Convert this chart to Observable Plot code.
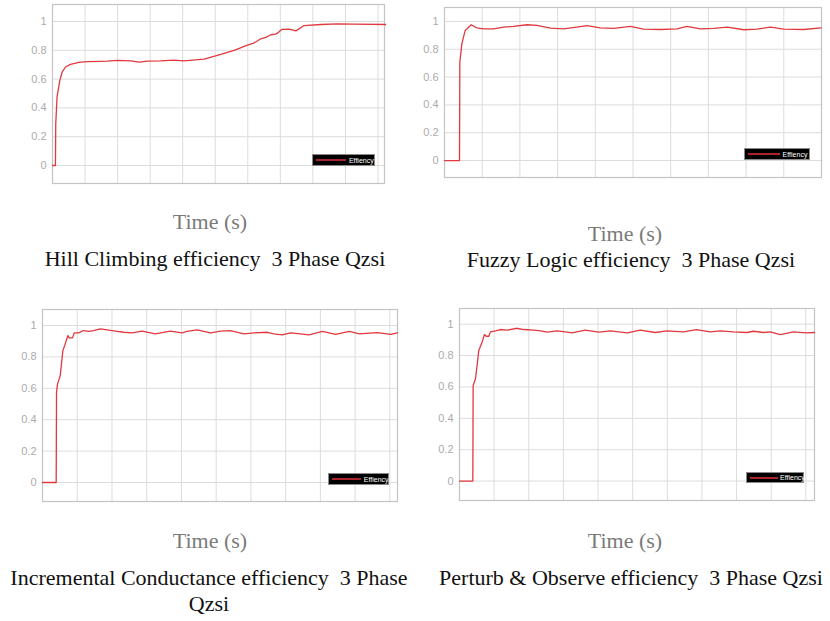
<!DOCTYPE html>
<html>
<head>
<meta charset="utf-8">
<script src="https://cdn.jsdelivr.net/npm/d3@7"></script>
<script src="https://cdn.jsdelivr.net/npm/@observablehq/plot@0.6"></script>
<style>
  html, body { margin: 0; padding: 0; background: #fff; }
  #root { position: relative; width: 830px; height: 621px; overflow: hidden; background: #fff; }
  .panel { position: absolute; }
  .cap { position: absolute; width: 500px; text-align: center; font-family: "Liberation Serif", serif; white-space: pre; line-height: 1; }
  .time { color: #7a7a7a; font-size: 22px; }
  .title { color: #111; font-size: 22px; }
  .legend { position: absolute; background: #000; border: 1px solid #8a8a8a; box-sizing: border-box; overflow: visible; }
  .legend .ln { position: absolute; height: 2px; background: #a8242a; }
  .legend .tx { position: absolute; top: 0; bottom: 0; display: flex; align-items: center; color: #fff; font-family: "Liberation Sans", sans-serif; font-size: 7px; white-space: nowrap; }
</style>
</head>
<body>
<div id="root"></div>
<script>
// ---------- data ----------
const yTicks = [0, 0.2, 0.4, 0.6, 0.8, 1];
const legendLabel = "Effiency";
const timeLabel = "Time (s)";
const titles = [
  "Hill Climbing efficiency  3 Phase Qzsi",
  "Fuzzy Logic efficiency  3 Phase Qzsi",
  "Incremental Conductance efficiency  3 Phase\nQzsi",
  "Perturb & Observe efficiency  3 Phase Qzsi"
];

const hcTime = [0, 0.09, 0.10, 0.14, 0.226, 0.297, 0.40, 0.554, 0.81, 1.067, 1.477, 1.68, 1.99, 2.40, 2.66, 2.91, 3.32, 3.73, 4.04, 4.66, 5.17, 5.58, 5.99, 6.20, 6.40, 6.55, 6.71, 6.85, 6.91, 7.04, 7.27, 7.48, 7.73, 8.25, 8.76, 9.27, 10.23];
const hcEff  = [0, 0, 0.29, 0.476, 0.591, 0.649, 0.684, 0.702, 0.716, 0.721, 0.723, 0.725, 0.730, 0.727, 0.718, 0.725, 0.727, 0.732, 0.727, 0.739, 0.771, 0.799, 0.836, 0.852, 0.880, 0.890, 0.908, 0.912, 0.919, 0.945, 0.947, 0.935, 0.972, 0.979, 0.984, 0.982, 0.979];

const flTime = [0, 0.398, 0.407, 0.46, 0.549, 0.708, 0.858, 1.035, 1.30, 1.566, 1.83, 2.19, 2.45, 2.81, 3.16, 3.51, 3.78, 4.13, 4.49, 4.93, 5.28, 5.73, 6.17, 6.43, 6.79, 7.14, 7.50, 7.94, 8.29, 8.65, 9.00, 9.53, 9.99];
const flEff  = [0, 0, 0.707, 0.839, 0.935, 0.976, 0.954, 0.947, 0.947, 0.959, 0.964, 0.976, 0.971, 0.952, 0.947, 0.959, 0.969, 0.954, 0.950, 0.964, 0.945, 0.942, 0.947, 0.964, 0.947, 0.950, 0.959, 0.940, 0.945, 0.959, 0.945, 0.942, 0.954];

const icTime = [0, 0.394, 0.404, 0.433, 0.51, 0.587, 0.654, 0.731, 0.769, 0.865, 0.913, 1.04, 1.18, 1.33, 1.47, 1.66, 1.86, 2.10, 2.34, 2.58, 2.87, 3.25, 3.68, 4.02, 4.16, 4.45, 4.84, 5.13, 5.41, 5.80, 6.09, 6.47, 6.66, 6.90, 7.14, 7.43, 7.67, 8.06, 8.44, 8.83, 9.12, 9.64, 10.03, 10.22];
const icEff  = [0, 0, 0.574, 0.628, 0.681, 0.840, 0.883, 0.936, 0.921, 0.921, 0.953, 0.953, 0.968, 0.962, 0.968, 0.979, 0.972, 0.964, 0.957, 0.953, 0.964, 0.947, 0.964, 0.953, 0.962, 0.972, 0.953, 0.964, 0.968, 0.947, 0.953, 0.957, 0.947, 0.940, 0.953, 0.947, 0.940, 0.962, 0.943, 0.962, 0.947, 0.955, 0.943, 0.953];

const poTime = [0, 0.385, 0.394, 0.462, 0.558, 0.654, 0.721, 0.769, 0.846, 0.894, 1.04, 1.18, 1.375, 1.64, 1.856, 2.14, 2.34, 2.53, 2.82, 3.11, 3.25, 3.63, 4.02, 4.36, 4.60, 4.84, 5.22, 5.65, 5.99, 6.47, 6.84, 7.24, 7.53, 7.91, 8.30, 8.49, 8.78, 8.97, 9.26, 9.64, 10.03, 10.25];
const poEff  = [0, 0, 0.609, 0.652, 0.833, 0.887, 0.934, 0.923, 0.923, 0.951, 0.957, 0.966, 0.962, 0.974, 0.966, 0.962, 0.957, 0.949, 0.957, 0.949, 0.944, 0.962, 0.949, 0.957, 0.951, 0.944, 0.962, 0.947, 0.957, 0.951, 0.966, 0.951, 0.957, 0.951, 0.947, 0.955, 0.947, 0.951, 0.934, 0.951, 0.944, 0.947];

const xGridA = [1, 2, 3, 4, 5, 6, 7, 8, 9, 10];
const xGridB = [1, 2, 3, 4, 5, 6, 7, 8, 9];

// ---------- layout (positions only) ----------
const panels = [
  { t: hcTime, e: hcEff, grid: xGridA, xd: [0, 10.2], yd: [-0.125, 1.118],
    left: 0, top: 0, w: 392, h: 190, ml: 52, mr: 8, mt: 4, mb: 7,
    leg: [312, 154, 63, 12], time: [210, 222], title: [215, 259] },
  { t: flTime, e: flEff, grid: xGridB, xd: [0, 10], yd: [-0.122, 1.10],
    left: 400, top: 0, w: 430, h: 185, ml: 44, mr: 9, mt: 7, mb: 8,
    leg: [744, 148, 66, 12], time: [625, 234], title: [631, 260] },
  { t: icTime, e: icEff, grid: xGridA, xd: [0, 10.22], yd: [-0.121, 1.102],
    left: 0, top: 300, w: 405, h: 210, ml: 42, mr: 8, mt: 9, mb: 9,
    leg: [328, 473, 61, 12], time: [210, 541], title: [209, 578] },
  { t: poTime, e: poEff, grid: xGridA, xd: [0, 10.25], yd: [-0.124, 1.10],
    left: 415, top: 300, w: 410, h: 210, ml: 44, mr: 11, mt: 8, mb: 10,
    leg: [746, 472, 58, 11], time: [625, 541], title: [631, 578] }
];

const root = document.getElementById("root");

panels.forEach((p, i) => {
  const data = p.t.map((t, k) => ({ t, e: p.e[k] }));
  const chart = Plot.plot({
    width: p.w, height: p.h,
    marginLeft: p.ml, marginRight: p.mr, marginTop: p.mt, marginBottom: p.mb,
    style: { fontFamily: "Liberation Sans, sans-serif", fontSize: "11px", color: "#ababab", background: "transparent" },
    x: { domain: p.xd, axis: null },
    y: { domain: p.yd, ticks: yTicks, tickSize: 0, tickPadding: 6, tickFormat: d3.format("~g"), label: null },
    marks: [
      Plot.ruleX(p.grid, { stroke: "#dcdcdc", strokeWidth: 1 }),
      Plot.ruleY(yTicks, { stroke: "#dcdcdc", strokeWidth: 1 }),
      Plot.frame({ stroke: "#c4c4c4", strokeWidth: 1.2 }),
      Plot.line(data, { x: "t", y: "e", stroke: "#e0393e", strokeWidth: 1.3, curve: "linear" })
    ]
  });
  const wrap = document.createElement("div");
  wrap.className = "panel";
  wrap.style.left = p.left + "px";
  wrap.style.top = p.top + "px";
  wrap.appendChild(chart);
  root.appendChild(wrap);

  // legend box
  const [lx, ly, lw, lh] = p.leg;
  const lg = document.createElement("div");
  lg.className = "legend";
  Object.assign(lg.style, { left: lx + "px", top: ly + "px", width: lw + "px", height: lh + "px" });
  const ln = document.createElement("div");
  ln.className = "ln";
  Object.assign(ln.style, { left: Math.round(lw * 0.05) + "px", width: Math.round(lw * 0.48) + "px", top: Math.round(lh / 2 - 2) + "px" });
  const tx = document.createElement("div");
  tx.className = "tx";
  tx.style.left = (lw * 0.57) + "px";
  tx.textContent = legendLabel;
  lg.appendChild(ln); lg.appendChild(tx);
  root.appendChild(lg);

  // captions
  const tm = document.createElement("div");
  tm.className = "cap time";
  tm.textContent = timeLabel;
  tm.style.left = (p.time[0] - 250) + "px";
  tm.style.top = (p.time[1] - 11) + "px";
  root.appendChild(tm);

  const lines = titles[i].split("\n");
  lines.forEach((s, j) => {
    const ti = document.createElement("div");
    ti.className = "cap title";
    ti.textContent = s;
    ti.style.left = (p.title[0] - 250) + "px";
    ti.style.top = (p.title[1] - 11 + j * 26) + "px";
    root.appendChild(ti);
  });
});
</script>
</body>
</html>
